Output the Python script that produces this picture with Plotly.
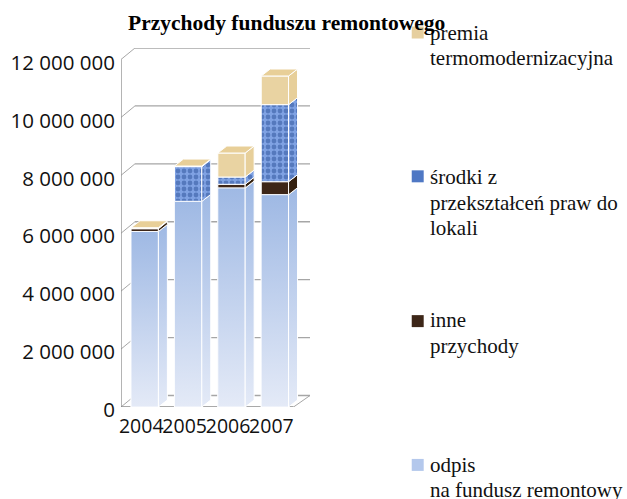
import plotly.graph_objects as go

years = ["2004", "2005", "2006", "2007"]
odpis = [6060000, 7100000, 7560000, 7330000]
inne = [100000, 0, 130000, 450000]
srodki = [0, 1200000, 250000, 2660000]
premia = [30000, 20000, 830000, 990000]
y_ticks = [0, 2000000, 4000000, 6000000, 8000000, 10000000, 12000000]
y_labels = ["0", "2 000 000", "4 000 000", "6 000 000", "8 000 000", "10 000 000", "12 000 000"]
title_text = "Przychody funduszu remontowego"
legend_lines = [
    ["premia", "termomodernizacyjna"],
    ["środki z", "przekształceń praw do", "lokali"],
    ["inne", "przychody"],
    ["odpis", "na fundusz remontowy"],
]

W, H = 627, 499
L, R, T, B = 120.5, 310, 47.5, 407
PX_PER_X = 43.5
PX_PER_Y = 29 / 1e6
FIRST_BAR_PX = 144.3
x_range = [(L - FIRST_BAR_PX) / PX_PER_X, (R - FIRST_BAR_PX) / PX_PER_X]
y_range = [0, (B - T) / PX_PER_Y]
bar_w = 0.63
side_dx, side_dy = 9 / PX_PER_X, 7 / PX_PER_Y
wall_dx, wall_dy = 14 / PX_PER_X, 11.5 / PX_PER_Y
front_right = x_range[0] + 173 / PX_PER_X


def px(v):
    return (v - L) / (R - L)


def py(v):
    return (B - v) / (B - T)


fig = go.Figure()
GRID = "#a6a6a6"
AX = "#8c8c8c"
shapes = []
for t in y_ticks:
    shapes.append(dict(type="line", xref="x", yref="y", layer="below",
                       x0=x_range[0], y0=t, x1=x_range[0] + wall_dx, y1=t + wall_dy,
                       line=dict(color=GRID, width=1)))
    shapes.append(dict(type="line", xref="x", yref="y", layer="below",
                       x0=x_range[0] + wall_dx, y0=t + wall_dy, x1=x_range[1], y1=t + wall_dy,
                       line=dict(color=GRID, width=1.3)))
shapes.append(dict(type="line", xref="x", yref="y", layer="below",
                   x0=front_right, y0=0, x1=x_range[1], y1=wall_dy,
                   line=dict(color=GRID, width=1)))
shapes.append(dict(type="line", xref="x", yref="y", layer="below",
                   x0=x_range[0], y0=0, x1=x_range[0], y1=y_ticks[-1],
                   line=dict(color=AX, width=1.3)))
shapes.append(dict(type="line", xref="x", yref="y", layer="below",
                   x0=x_range[0], y0=0, x1=front_right, y1=0,
                   line=dict(color=AX, width=1.5)))

idx = list(range(len(years)))
series = [
    ("odpis", odpis, "#a5bce6", "#9fb7e3", None),
    ("inne", inne, "#3d2618", "#33200f", None),
    ("srodki", srodki, "#6f94da", "#5f85cf",
     dict(shape=".", fgcolor="#2b4f97", bgcolor="#7fa2e3", size=6, solidity=0.5)),
    ("premia", premia, "#e9d3a2", "#e7cf9a", None),
]

base = [0] * 4
for name, vals, col, side, pat in series:
    m = dict(color=col, line=dict(color="white", width=1))
    if pat:
        m["pattern"] = pat
    fig.add_trace(go.Bar(x=idx, y=vals, base=base, width=bar_w, marker=m, name=name, showlegend=False))
    for i, v in enumerate(vals):
        if v <= 0:
            continue
        b, t = base[i], base[i] + v
        xr = i + bar_w / 2
        kw = {}
        if pat:
            kw["fillpattern"] = pat
        if name == "odpis":
            kw["fillgradient"] = dict(type="vertical", colorscale=[[0, "#e4eaf7"], [1, "#9fb9e4"]])
            fig.add_trace(go.Scatter(
                x=[i - bar_w / 2, xr, xr, i - bar_w / 2, i - bar_w / 2], y=[b, b, t, t, b],
                mode="lines", fill="toself", line=dict(color="rgba(255,255,255,0.8)", width=1),
                showlegend=False, hoverinfo="skip",
                fillgradient=kw["fillgradient"]))
        else:
            kw["fillcolor"] = side
        fig.add_trace(go.Scatter(
            x=[xr, xr + side_dx, xr + side_dx, xr, xr],
            y=[b, b + side_dy, t + side_dy, t, b],
            mode="lines", fill="toself", line=dict(color="white", width=1),
            showlegend=False, hoverinfo="skip", **kw))
    base = [p + q for p, q in zip(base, vals)]

for i, t in enumerate(base):
    xl, xr = i - bar_w / 2, i + bar_w / 2
    fig.add_trace(go.Scatter(
        x=[xl, xr, xr + side_dx, xl + side_dx, xl],
        y=[t, t, t + side_dy, t + side_dy, t],
        mode="lines", fill="toself", fillcolor="#e8cf98", line=dict(color="white", width=1),
        showlegend=False, hoverinfo="skip"))

annos = []
FONT = "Liberation Serif"
line_centres = [[32, 58], [177, 203, 228], [320, 346], [465, 490]]
swatches = [(32, "#e6cf9f"), (176, "#4f78c4"), (321, "#3d2618"), (465, "#b4c8ec")]
for lines, ys in zip(legend_lines, line_centres):
    for s, yy in zip(lines, ys):
        annos.append(dict(text=s, xref="paper", yref="paper", x=px(428), y=py(yy), xanchor="left",
                          yanchor="middle", showarrow=False,
                          font=dict(family=FONT, size=21, color="#111111")))
for yy, c in swatches:
    shapes.append(dict(type="rect", xref="paper", yref="paper", x0=px(412), x1=px(424),
                       y0=py(yy + 6), y1=py(yy - 6), fillcolor=c, line=dict(width=0)))

annos.append(dict(text="<b>" + title_text + "</b>", xref="paper", yref="paper", x=px(286.5), y=py(22),
                  xanchor="center", yanchor="middle", showarrow=False,
                  font=dict(family=FONT, size=21.5, color="black")))

fig.update_layout(
    width=W, height=H, paper_bgcolor="white", plot_bgcolor="white",
    margin=dict(l=L, r=W - R, t=T, b=H - B, pad=0),
    barmode="overlay", showlegend=False, shapes=shapes, annotations=annos,
    xaxis=dict(range=x_range, tickmode="array", tickvals=[i - 0.08 for i in idx], ticktext=years,
               showgrid=False, zeroline=False, showline=False, ticks="", ticklen=0, tickangle=0,
               ticklabelstandoff=5,
               tickfont=dict(family="Open Sans", size=19.5, color="#111111")),
    yaxis=dict(range=y_range, tickmode="array", tickvals=y_ticks, ticktext=y_labels,
               showgrid=False, zeroline=False, showline=False, ticks="", ticklabelshift=3,
               ticklabelstandoff=5,
               tickfont=dict(family="Open Sans", size=20.5, color="#111111")),
)
fig.write_html("out.html", post_script="document.body.style.margin='0';", config={"displayModeBar": False})
